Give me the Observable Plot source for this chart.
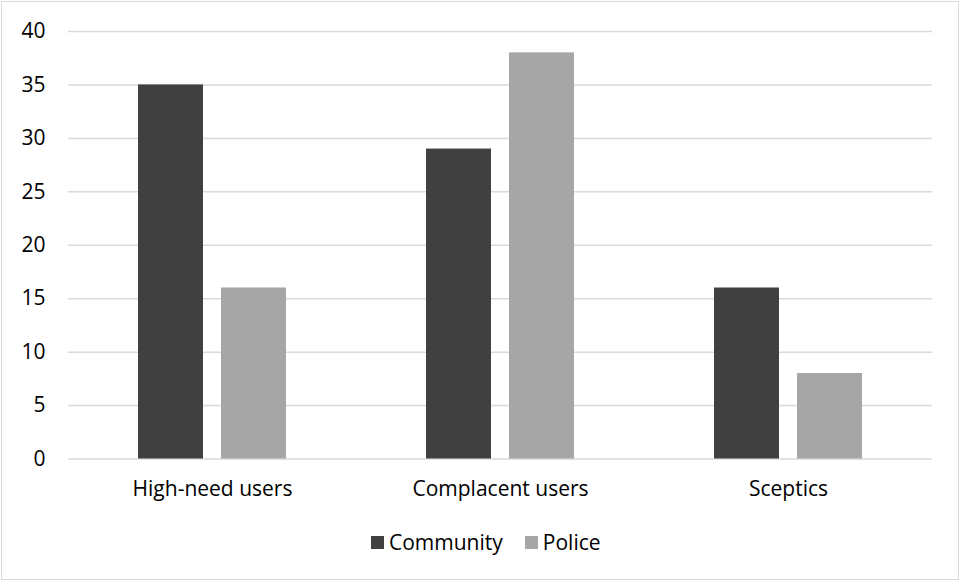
<!DOCTYPE html>
<html>
<head>
<meta charset="utf-8">
<script src="https://cdn.jsdelivr.net/npm/d3@7"></script>
<script src="https://cdn.jsdelivr.net/npm/@observablehq/plot@0.6"></script>
<style>
  html, body { margin: 0; padding: 0; background: #fff; }
  #wrap { position: relative; width: 960px; height: 581px; overflow: hidden; font-family: "Open Sans", sans-serif; }
  #wrap svg { position: absolute; left: 0; top: 0; }
  #frame { position: absolute; left: 1px; top: 1px; width: 956px; height: 577px; border: 1.5px solid #d9d9d9; pointer-events: none; }
  #legend { position: absolute; left: 371px; top: 528px; display: flex; align-items: center; font-size: 21px; line-height: 28px; color: #000; }
  #legend .sw { width: 13px; height: 13px; display: inline-block; margin-right: 5px; }
  #legend .item { display: flex; align-items: center; margin-right: 22px; }
</style>
</head>
<body>
<div id="wrap"><div id="frame"></div></div>
<script>
const categories = ["High-need users", "Complacent users", "Sceptics"];
const series = ["Community", "Police"];
const communityValues = [35, 29, 16];
const policeValues = [16, 38, 8];
const yTicks = [0, 5, 10, 15, 20, 25, 30, 35, 40];
const colors = ["#404040", "#a6a6a6"];

const rows = [];
categories.forEach((c, i) => {
  rows.push({category: c, series: "Community", value: communityValues[i]});
  rows.push({category: c, series: "Police", value: policeValues[i]});
});

const chart = Plot.plot({
  width: 960,
  height: 581,
  marginLeft: 67,
  marginRight: 28,
  marginTop: 31,
  marginBottom: 122.5,
  style: {fontFamily: "'Open Sans', sans-serif", fontSize: "21px", color: "#000", background: "transparent"},
  fx: {domain: categories, padding: 0, label: null, axis: null},
  x: {domain: series, paddingInner: 0.217, paddingOuter: 0.843, axis: null},
  y: {domain: [0, 40], label: null, axis: null},
  color: {domain: series, range: colors},
  marks: [
    Plot.ruleY(yTicks, {stroke: "#d9d9d9", strokeWidth: 1.5}),
    Plot.barY(rows, {fx: "category", x: "series", y: "value", fill: "series"}),
    Plot.axisY(yTicks, {tickSize: 0, tickPadding: 23, label: null, fontSize: 21}),
    Plot.axisFx({anchor: "bottom", tickSize: 0, tickPadding: 22, label: null, fontSize: 21})
  ]
});
document.getElementById("wrap").insertBefore(chart, document.getElementById("frame"));

const legend = document.createElement("div");
legend.id = "legend";
series.forEach((s, i) => {
  const item = document.createElement("span");
  item.className = "item";
  const sw = document.createElement("span");
  sw.className = "sw";
  sw.style.background = colors[i];
  item.appendChild(sw);
  item.appendChild(document.createTextNode(s));
  legend.appendChild(item);
});
document.getElementById("wrap").appendChild(legend);
</script>
</body>
</html>
